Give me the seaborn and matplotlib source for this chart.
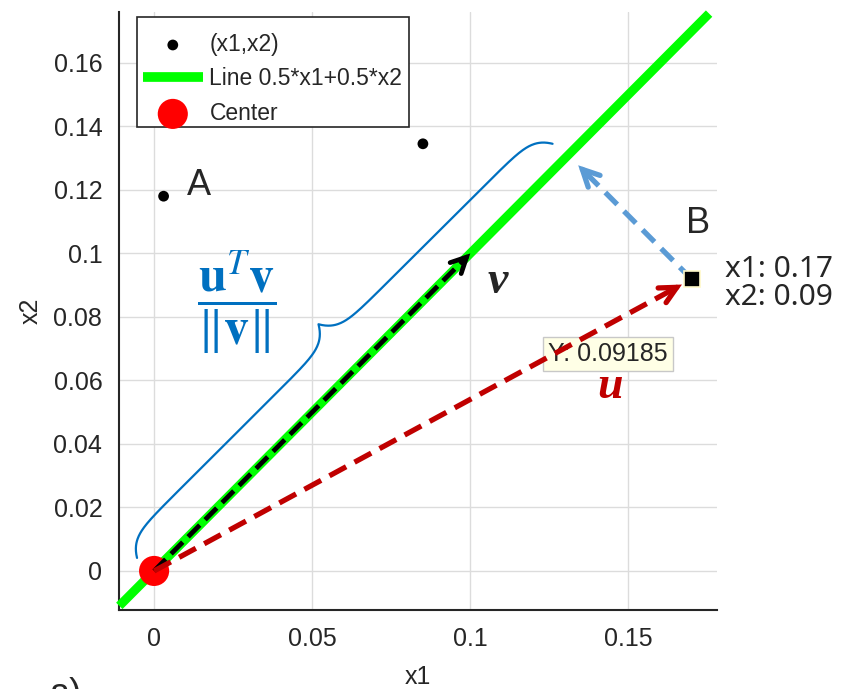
import numpy as np
import pandas as pd
import matplotlib
matplotlib.use("Agg")
import matplotlib.pyplot as plt
from matplotlib.patches import Rectangle
import seaborn as sns

# ---- data -------------------------------------------------------------
pts_x1 = [0.003, 0.085]              # sample points (x1, x2)
pts_x2 = [0.118, 0.1345]
point_b = (0.17, 0.09185)            # data-tip point B
line_w = (0.5, 0.5)                  # line 0.5*x1 + 0.5*x2
line_t = [-0.011, 0.1755]            # extent of the drawn line along x1
v_end = (0.1, 0.1)                   # vector v
center = (0.0, 0.0)
xticks = [0, 0.05, 0.1, 0.15]
yticks = [0, 0.02, 0.04, 0.06, 0.08, 0.1, 0.12, 0.14, 0.16]

sns.set_style("white")
plt.rcParams["font.family"] = ["Liberation Sans", "DejaVu Sans"]
plt.rcParams["mathtext.fontset"] = "stix"

W, H = 852, 689
fig = plt.figure(figsize=(W / 100, H / 100), dpi=100)
ax = fig.add_axes([119 / W, 1 - 610 / H, 598 / W, 598 / H])

GREEN = "#00ff00"
DRED = "#c00000"
LBLUE = "#5b9bd5"
BLUE = "#0070c0"

# line through the origin along direction line_w
lx = np.array(line_t)
ly = lx * line_w[1] / line_w[0]
line_df = pd.DataFrame({"x1": lx, "x2": ly})
sns.lineplot(data=line_df, x="x1", y="x2", ax=ax, color=GREEN, lw=6.5,
             solid_capstyle="butt", label="Line 0.5*x1+0.5*x2", zorder=3,
             clip_on=False)

pts_df = pd.DataFrame({"x1": pts_x1, "x2": pts_x2})
sns.scatterplot(data=pts_df, x="x1", y="x2", ax=ax, color="black", s=60,
                edgecolor="none", label="(x1,x2)", zorder=4)

cen_df = pd.DataFrame({"x1": [center[0]], "x2": [center[1]]})
sns.scatterplot(data=cen_df, x="x1", y="x2", ax=ax, color="#ff0000", s=470,
                edgecolor="none", label="Center", zorder=5, clip_on=False)

# point B as a square data tip
ax.plot([point_b[0]], [point_b[1]], marker="s", ms=12, color="black",
        mec="#fff8c8", mew=1.2, zorder=8, ls="none")


def dashed_arrow(p0, p1, color, lw, dashes, shrink=0.0, head=24):
    p0 = np.array(p0, float)
    p1 = np.array(p1, float)
    d = p1 - p0
    d /= np.linalg.norm(d)
    tip = p1 - d * shrink
    ax.plot([p0[0], tip[0] - d[0] * 0.002], [p0[1], tip[1] - d[1] * 0.002],
            color=color, lw=lw, dashes=dashes, solid_capstyle="butt",
            dash_capstyle="butt", zorder=7)
    ax.annotate("", xy=tip, xytext=tip - d * 0.004,
                arrowprops=dict(arrowstyle="->", color=color, lw=lw,
                                mutation_scale=head, shrinkA=0, shrinkB=0,
                                joinstyle="miter", capstyle="round"),
                zorder=7)


# projection of u onto v
u = np.array(point_b)
v = np.array(v_end)
proj = (u @ v) / (v @ v) * v

dashed_arrow(center, v_end, "black", 3.4, (3.5, 1.6), shrink=0.0, head=28)
dashed_arrow(center, point_b, DRED, 3.8, (3.6, 1.8), shrink=0.0035, head=30)
dashed_arrow(point_b, proj, LBLUE, 3.8, (3.2, 1.8), shrink=0.0045, head=30)

# curly brace along the line, offset to the upper-left
S = np.array([-0.0054, 0.0041])
E = np.array([0.126, 0.1345])
along = (E - S) / np.linalg.norm(E - S)
nrm = np.array([-along[1], along[0]])
L = np.linalg.norm(E - S)
s = np.linspace(0, L / 2, 300)
a = 0.0035
hb, ht = 0.0058, 0.0060
w = hb * (1 - np.exp(-s / a)) + ht * np.exp(-(L / 2 - s) / a)
s_full = np.concatenate([s, L - s[::-1]])
w_full = np.concatenate([w, w[::-1]])
bx = S[0] + along[0] * s_full + nrm[0] * w_full
by = S[1] + along[1] * s_full + nrm[1] * w_full
ax.plot(bx, by, color=BLUE, lw=1.6, zorder=6, solid_capstyle="round")

# annotations
ax.text(0.0143, 0.1215, "A", fontsize=26, ha="center", va="center", zorder=9)
ax.text(0.1721, 0.1094, "B", fontsize=26, ha="center", va="center", zorder=9)
ax.text(0.1805, 0.0906, "x1: 0.17\nx2: 0.09", fontsize=21.5,
        family=["Noto Sans", "DejaVu Sans"], ha="left", va="center",
        linespacing=0.95, zorder=9)
ax.text(0.1087, 0.0911, "v", fontsize=33, family="Liberation Serif",
        style="italic", weight="bold", ha="center", va="center", zorder=9)
ax.text(0.1443, 0.0580, "u", fontsize=33, family="Liberation Serif",
        style="italic", weight="bold", color=DRED, ha="center", va="center",
        zorder=9)
ax.text(0.0262, 0.0845,
        r"$\dfrac{\mathbf{u}^{T}\mathbf{v}}{\Vert\mathbf{v}\Vert}$",
        fontsize=36, color=BLUE, ha="center", va="center", zorder=9)
ax.text(0.1246, 0.0683, "Y: 0.09185", fontsize=18, ha="left",
        va="center", zorder=6.5,
        bbox=dict(boxstyle="square,pad=0.2", fc="#ffffe6", ec="#c8c8c8",
                  lw=1))

# axes styling
ax.set_xlim(-0.0111, 0.178)
ax.set_ylim(-0.0123, 0.176)
ax.set_xticks(xticks)
ax.set_xticklabels(["0", "0.05", "0.1", "0.15"])
ax.set_yticks(yticks)
ax.set_yticklabels(["0", "0.02", "0.04", "0.06", "0.08", "0.1", "0.12",
                    "0.14", "0.16"])
ax.grid(True, color="#dcdcdc", lw=1.0)
ax.set_axisbelow(True)
for side in ["top", "right"]:
    ax.spines[side].set_visible(False)
for side in ["left", "bottom"]:
    ax.spines[side].set_color("#262626")
    ax.spines[side].set_linewidth(1.5)
ax.tick_params(axis="both", direction="in", length=6, width=1.2,
               color="#262626", labelsize=18, labelcolor="#262626", pad=12)
ax.set_xlabel("x1", fontsize=18, color="#262626", labelpad=10)
ax.set_ylabel("x2", fontsize=18, color="#262626", labelpad=8)

# legend: entries without frame, box drawn separately
handles, labels = ax.get_legend_handles_labels()
order = [labels.index(k) for k in ["(x1,x2)", "Line 0.5*x1+0.5*x2", "Center"]]
leg = ax.legend([handles[i] for i in order], [labels[i] for i in order],
                loc="upper left", bbox_to_anchor=(143 / W, 1 - 33 / H),
                bbox_transform=fig.transFigure,
                borderaxespad=0, borderpad=0, fontsize=16.5, frameon=False,
                handlelength=2.6, labelspacing=0.5, handletextpad=0.3)
leg.legend_handles[1].set_linewidth(7)
leg.set_zorder(10)
ax.add_patch(Rectangle((137 / W, 1 - 127 / H), 272 / W, 110 / H,
                       transform=fig.transFigure, fc="white", ec="#262626",
                       lw=1.2, zorder=9.5, clip_on=False))

fig.text(0.058, 1 - 677 / H, "a)", fontsize=26, ha="left", va="top")

fig.savefig("out.png", dpi=100)
